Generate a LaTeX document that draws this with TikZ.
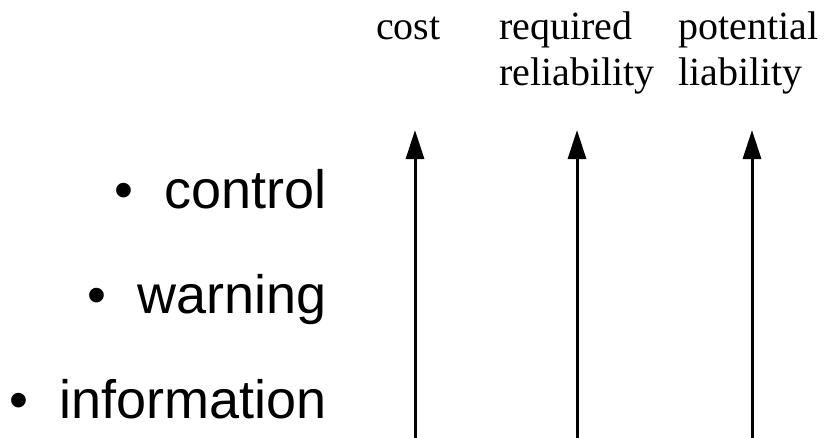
\documentclass[tikz,border=0pt]{standalone}
\usepackage{fontspec}
\setmainfont{Liberation Serif}
\newfontfamily\lblsans{Liberation Sans}
\usetikzlibrary{arrows.meta}
\tikzset{
  toplbl/.style={inner sep=0pt, font=\fontsize{40}{46}\selectfont, align=left},
  itemlbl/.style={inner sep=0pt, font=\lblsans\fontsize{54}{60}\selectfont, anchor=base east},
  arr/.style={line width=3pt, -{Triangle[length=29pt,width=18pt]}}
}
\begin{document}
\begin{tikzpicture}[x=1pt,y=1pt]
\useasboundingbox (0,0) rectangle (828,-437);
% top labels
\node[toplbl, anchor=base west] (cost) at (376,-39) {cost};
\node[toplbl, anchor=north west] (rel) at (499,-12) {required\\reliability};
\node[toplbl, anchor=north west] (liab) at (678,-12) {potential\\liability};
% item labels
\node[itemlbl] (ctrl) at (327,-208) {•\hspace{31pt}control};
\node[itemlbl] (warn) at (327,-313) {•\hspace{31pt}warning};
\node[itemlbl] (info) at (327,-418) {•\hspace{31pt}information};
% arrows
\coordinate (c1b) at (415,-440);
\coordinate (c1t) at (415,-130);
\coordinate (c2b) at (577,-440);
\coordinate (c2t) at (577,-130);
\coordinate (c3b) at (752,-440);
\coordinate (c3t) at (752,-130);
\draw[arr] (c1b) -- (c1t);
\draw[arr] (c2b) -- (c2t);
\draw[arr] (c3b) -- (c3t);
\end{tikzpicture}
\end{document}
